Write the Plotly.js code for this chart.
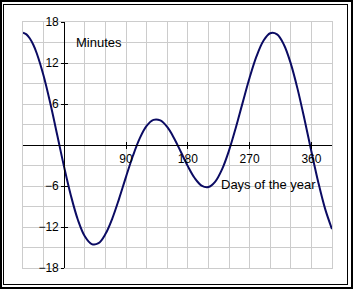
<!DOCTYPE html>
<html>
<head>
<meta charset="utf-8">
<script src="https://cdn.plot.ly/plotly-3.0.1.min.js"></script>
<style>
html,body{margin:0;padding:0;background:#fff;}
#wrap{position:relative;width:353px;height:289px;overflow:hidden;}
#chart{position:absolute;left:0;top:0;width:353px;height:289px;}
#outer{position:absolute;left:0;top:0;width:353px;height:289px;box-sizing:border-box;border:2px solid #000;pointer-events:none;}
#inner{position:absolute;left:3px;top:4px;width:345px;height:281px;box-sizing:border-box;border:1.5px solid #000;pointer-events:none;}
</style>
</head>
<body>
<div id="wrap">
<div id="chart"></div>
<div id="outer"></div>
<div id="inner"></div>
</div>
<script>
// Day of the year (extended beyond one year) and equation of time in minutes
const days = [-60,-55,-50,-45,-40,-30,-20,-10,0,10,20,30,40,50,60,70,80,90,100,110,120,130,140,150,160,170,180,190,200,210,220,230,240,250,260,270,280,290,300,310,320,330,340,350,360,370,380,390];
const minutes = [16.44,16.19,15.59,14.67,13.43,10.13,5.99,1.38,-3.26,-7.50,-10.97,-13.36,-14.50,-14.37,-13.04,-10.76,-7.84,-4.66,-1.61,0.97,2.79,3.68,3.60,2.64,1.00,-1.03,-3.09,-4.83,-5.93,-6.15,-5.35,-3.53,-0.81,2.56,6.24,9.84,12.96,15.23,16.36,16.19,14.67,11.91,8.14,3.72,-0.96,-5.45,-9.35,-12.31];
const xGrid = [-60,-30,0,30,60,90,120,150,180,210,240,270,300,330,360,390];
const yGrid = [-18,-15,-12,-9,-6,-3,0,3,6,9,12,15,18];
const xTickVals = [90,180,270,360];
const xTickText = ['90','180','270','360'];
const yTickVals = [-18,-12,-6,6,12,18];
const yTickText = ['\u221218','\u221212','\u22126','6','12','18'];
const xRange = [-60,390];
const yRange = [-18,18];
const yLabel = 'Minutes';
const xLabel = 'Days of the year';

const font = {family:'Liberation Sans, Arial, sans-serif', size:12, color:'#000'};
const curveColor = '#0b0b63';
const gridColor = '#cccccc';
const yPos = (0 - xRange[0]) / (xRange[1] - xRange[0]);

function hiddenTrace(xa, ya) {
  return {x:days.slice(), y:minutes.slice(), xaxis:xa, yaxis:ya, mode:'lines', line:{width:0, color:'rgba(0,0,0,0)'}, hoverinfo:'skip', showlegend:false};
}

const traces = [
  {x:days, y:minutes, xaxis:'x', yaxis:'y', mode:'lines', line:{color:curveColor, width:2, shape:'spline', smoothing:1}, hoverinfo:'skip', showlegend:false},
  hiddenTrace('x2','y'),
  hiddenTrace('x3','y'),
  hiddenTrace('x','y2'),
  hiddenTrace('x','y3')
];

function xa(extra) { return Object.assign({range:xRange.slice(), autorange:false, fixedrange:true, zeroline:false, showgrid:false}, extra); }
function ya(extra) { return Object.assign({range:yRange.slice(), autorange:false, fixedrange:true, zeroline:false, showgrid:false}, extra); }

const layout = {
  width:353, height:289,
  margin:{l:23, r:21, t:22, b:21},
  paper_bgcolor:'rgba(0,0,0,0)', plot_bgcolor:'rgba(0,0,0,0)',
  font:font,
  showlegend:false,
  xaxis:xa({tickmode:'array', tickvals:xGrid.slice(), showticklabels:false, ticks:'', showgrid:true, gridcolor:gridColor, gridwidth:1, showline:true, linecolor:gridColor, linewidth:1, mirror:true}),
  yaxis:ya({tickmode:'array', tickvals:yGrid.slice(), showticklabels:false, ticks:'', showgrid:true, gridcolor:gridColor, gridwidth:1, showline:true, linecolor:gridColor, linewidth:1, mirror:true}),
  xaxis2:xa({overlaying:'x', anchor:'free', position:0.5, side:'bottom', tickmode:'array', tickvals:xTickVals.slice(), ticktext:xTickText.slice(), ticks:'outside', ticklen:3, tickwidth:1, tickcolor:'#000', showline:true, linecolor:'#000', linewidth:1, tickfont:font}),
  xaxis3:xa({overlaying:'x', anchor:'free', position:0.5, side:'bottom', tickmode:'array', tickvals:xTickVals.slice(), showticklabels:false, ticks:'inside', ticklen:3, tickwidth:1, tickcolor:'#000', showline:false}),
  yaxis2:ya({overlaying:'y', anchor:'free', position:yPos, side:'left', tickmode:'array', tickvals:yTickVals.slice(), ticktext:yTickText.slice(), ticks:'outside', ticklen:3, tickwidth:1, tickcolor:'#000', showline:true, linecolor:'#000', linewidth:1, tickfont:font}),
  yaxis3:ya({overlaying:'y', anchor:'free', position:yPos, side:'left', tickmode:'array', tickvals:yTickVals.slice(), showticklabels:false, ticks:'inside', ticklen:3, tickwidth:1, tickcolor:'#000', showline:false}),
  annotations:[
    {xref:'x', yref:'y', x:14, y:15, text:yLabel, showarrow:false, xanchor:'left', yanchor:'middle', font:{family:font.family, size:13, color:'#000'}},
    {xref:'x', yref:'y', x:225, y:-5.8, text:xLabel, showarrow:false, xanchor:'left', yanchor:'middle', font:{family:font.family, size:13, color:'#000'}}
  ]
};

Plotly.newPlot('chart', traces, layout, {staticPlot:true, displayModeBar:false});
</script>
</body>
</html>
